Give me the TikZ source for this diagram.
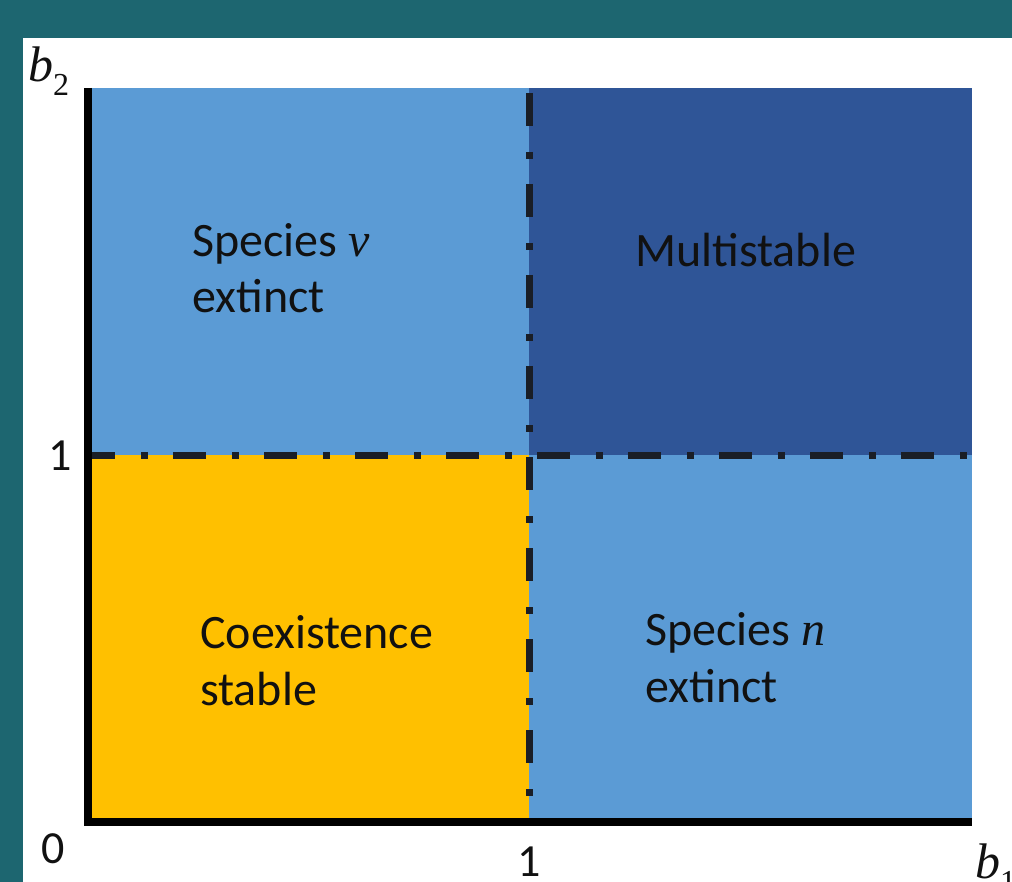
\documentclass[tikz,border=0pt]{standalone}
\usepackage{fontspec}
\setmainfont{Carlito}
\newfontfamily\varfont{Liberation Serif}
\newcommand{\var}[1]{{\varfont\itshape #1}}
\newcommand{\sub}[1]{\raisebox{-0.28em}{\varfont\fontsize{32}{36}\selectfont #1}}
\definecolor{frame}{HTML}{1D6670}
\definecolor{lightblue}{HTML}{5B9BD5}
\definecolor{darkblue}{HTML}{2F5597}
\definecolor{gold}{HTML}{FFC000}
\definecolor{ink}{HTML}{111111}
\definecolor{dashink}{HTML}{1A1E26}
\tikzset{
  lbl/.style={anchor=base west, inner sep=0pt, text=ink, font=\fontsize{48}{56}\selectfont},
  tick/.style={anchor=base, inner sep=0pt, text=ink, font=\fontsize{46}{54}\selectfont},
  axis/.style={draw=black, line width=8pt, line cap=butt, line join=miter},
  divider/.style={draw=dashink, line width=7pt, line cap=butt,
    dash pattern=on 33pt off 26pt on 7pt off 25pt}
}
\begin{document}
\begin{tikzpicture}[x=1pt, y=-1pt]
  % canvas: teal frame with white panel
  \useasboundingbox (0,0) rectangle (1012,882);
  \fill[frame] (0,0) rectangle (1012,882);
  \fill[white] (23,38) rectangle (1012,882);

  % the four regions of the (b1,b2) plane
  \fill[lightblue] (88,88) rectangle (529,455);
  \fill[darkblue]  (529,88) rectangle (972,455);
  \fill[gold]      (88,455) rectangle (529,822);
  \fill[lightblue] (529,455) rectangle (972,822);

  % thresholds b1 = 1 and b2 = 1
  \coordinate (vtop) at (529.5,93);
  \coordinate (vbot) at (529.5,818);
  \coordinate (hleft) at (88,455);
  \coordinate (hright) at (972,455);
  \draw[divider] (vtop) -- (vbot);
  \draw[divider, dash phase=6pt] (hleft) -- (hright);

  % axes
  \coordinate (ytop) at (88,88);
  \coordinate (orig) at (88,821.5);
  \coordinate (xend) at (972,821.5);
  \draw[axis] (ytop) -- (orig) -- (xend);

  % axis labels
  \node[lbl, font=\fontsize{50}{56}\selectfont] (b2) at (28,82) {\var{b}\sub{2}};
  \node[lbl, font=\fontsize{50}{56}\selectfont] (b1) at (975,878) {\var{b}\sub{1}};
  \node[tick] (zero) at (53,863) {0};
  \node[tick] (oney) at (60,470) {1};
  \node[tick] (onex) at (529,876) {1};

  % region labels
  \node[lbl] (vext1) at (192,257) {Species \var{v}};
  \node[lbl] (vext2) at (192,313) {extinct};
  \node[lbl] (multi) at (635,267) {Multistable};
  \node[lbl] (coex1) at (200,648) {Coexistence};
  \node[lbl] (coex2) at (200,705) {stable};
  \node[lbl] (next1) at (645,645) {Species \var{n}};
  \node[lbl] (next2) at (645,702) {extinct};
\end{tikzpicture}
\end{document}
